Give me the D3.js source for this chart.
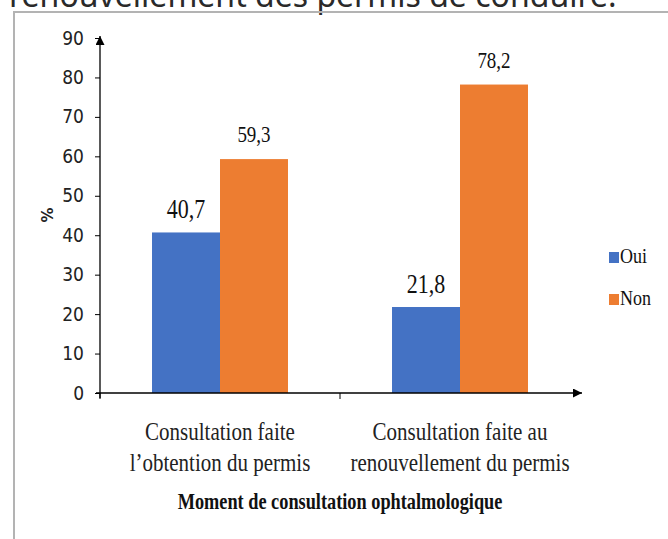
<!DOCTYPE html>
<html>
<head>
<meta charset="utf-8">
<script src="https://cdn.jsdelivr.net/npm/d3@7"></script>
<style>
  html, body { margin: 0; padding: 0; background: #fff; }
  svg { display: block; }
</style>
</head>
<body>
<svg id="chart" width="668" height="539"></svg>
<script>
const categories = [
  ["Consultation faite", "l\u2019obtention du permis"],
  ["Consultation faite au", "renouvellement du permis"]
];
const seriesNames = ["Oui", "Non"];
const ouiValues = [40.7, 21.8];
const nonValues = [59.3, 78.2];
const yTicks = [0, 10, 20, 30, 40, 50, 60, 70, 80, 90];
const valueLabels = [["40,7", "21,8"], ["59,3", "78,2"]];
const colors = ["#4472C4", "#ED7D31"];
const xTitle = "Moment de consultation ophtalmologique";
const yTitle = "%";
const headerText = "renouvellement des permis de conduire.";

const svg = d3.select("#chart");
const serif = "'Liberation Serif', 'Times New Roman', serif";

// header text (cut off at top)
svg.append("text")
  .attr("x", 9).attr("y", 7)
  .attr("font-family", "'Noto Sans', 'Open Sans', sans-serif")
  .attr("font-size", 32)
  .attr("fill", "#2a2a2a")
  .text(headerText);

// frame
svg.append("path")
  .attr("d", "M14,540 L14,12 L670,12")
  .attr("fill", "none")
  .attr("stroke", "#b3b3b3")
  .attr("stroke-width", 2);

const catIdx = categories.map((d, i) => i);
const x0 = d3.scaleBand().domain(catIdx).range([100, 580]).paddingInner(0).paddingOuter(0);
const x1 = d3.scaleBand().domain(seriesNames).range([0, x0.bandwidth()]).paddingInner(0).paddingOuter(0.765);
const y = d3.scaleLinear().domain([0, 90]).range([393, 38]);

const defs = svg.append("defs");
defs.append("marker").attr("id", "arrow")
  .attr("viewBox", "0 0 10 10").attr("refX", 10).attr("refY", 5)
  .attr("markerWidth", 14).attr("markerHeight", 9).attr("markerUnits", "userSpaceOnUse")
  .attr("orient", "auto")
  .append("path").attr("d", "M0,0 L10,5 L0,10 Z").attr("fill", "#000");

// bars
const seriesVals = [ouiValues, nonValues];
seriesNames.forEach((s, si) => {
  svg.append("g").selectAll("rect").data(seriesVals[si]).join("rect")
    .attr("x", (d, i) => x0(i) + x1(s))
    .attr("y", d => y(d))
    .attr("width", x1.bandwidth())
    .attr("height", d => y(0) - y(d))
    .attr("fill", colors[si]);
});

// value labels
const labelSizes = [22, 19];
const labelScaleY = [1.2, 1.17];
const labelGap = [14, 17];
seriesNames.forEach((s, si) => {
  svg.append("g").selectAll("text").data(seriesVals[si]).join("text")
    .attr("transform", (d, i) => `translate(${x0(i) + x1(s) + x1.bandwidth() / 2},${y(d) - labelGap[si]}) scale(1,${labelScaleY[si]})`)
    .attr("text-anchor", "middle")
    .attr("font-family", serif)
    .attr("font-size", labelSizes[si])
    .attr("fill", "#111")
    .text((d, i) => valueLabels[si][i]);
});

// y axis
const yAxis = d3.axisLeft(y).tickValues(yTicks).tickSize(5).tickPadding(11).tickFormat(d3.format("d"));
const gy = svg.append("g").attr("transform", "translate(100,0)").call(yAxis);
gy.select(".domain").remove();
gy.selectAll(".tick line").attr("stroke", "#000");
gy.selectAll(".tick text")
  .attr("font-family", "'Liberation Sans Narrow', 'DejaVu Sans Condensed', sans-serif")
  .attr("font-size", 19).attr("fill", "#222");
svg.append("line")
  .attr("x1", 100).attr("x2", 100).attr("y1", y(0) + 5).attr("y2", y(90) - 2)
  .attr("stroke", "#000").attr("stroke-width", 1.3)
  .attr("marker-end", "url(#arrow)");

// x axis
svg.append("line")
  .attr("x1", 96).attr("x2", 582).attr("y1", y(0)).attr("y2", y(0))
  .attr("stroke", "#000").attr("stroke-width", 1.3)
  .attr("marker-end", "url(#arrow)");
svg.append("g").selectAll("line").data([0, 1]).join("line")
  .attr("x1", d => x0(d)).attr("x2", d => x0(d))
  .attr("y1", y(0)).attr("y2", y(0) + 6)
  .attr("stroke", "#000");

// category labels
categories.forEach((lines, i) => {
  lines.forEach((ln, li) => {
    svg.append("text")
      .attr("transform", `translate(${x0(i) + x0.bandwidth() / 2},${440 + li * 31}) scale(1,1.22)`)
      .attr("text-anchor", "middle")
      .attr("font-family", serif)
      .attr("font-size", 21)
      .attr("fill", "#222")
      .text(ln);
  });
});

// x title
svg.append("text")
  .attr("transform", "translate(340,509) scale(1,1.22)")
  .attr("text-anchor", "middle")
  .attr("font-family", serif)
  .attr("font-weight", "bold")
  .attr("font-size", 18.3)
  .attr("fill", "#111")
  .text(xTitle);

// y title
svg.append("text")
  .attr("transform", "translate(53,215) rotate(-90)")
  .attr("text-anchor", "middle")
  .attr("font-family", "'DejaVu Sans', sans-serif")
  .attr("font-weight", "bold")
  .attr("font-size", 15)
  .attr("fill", "#222")
  .text(yTitle);

// legend
const leg = svg.append("g").attr("transform", "translate(609,252)");
seriesNames.forEach((s, si) => {
  const g = leg.append("g").attr("transform", `translate(0,${si * 42})`);
  g.append("rect").attr("width", 10).attr("height", 11).attr("fill", colors[si]);
  g.append("text").attr("transform", "translate(11,11) scale(1,1.2)")
    .attr("font-family", serif)
    .attr("font-size", 18).attr("fill", "#111").text(s);
});
</script>
</body>
</html>
